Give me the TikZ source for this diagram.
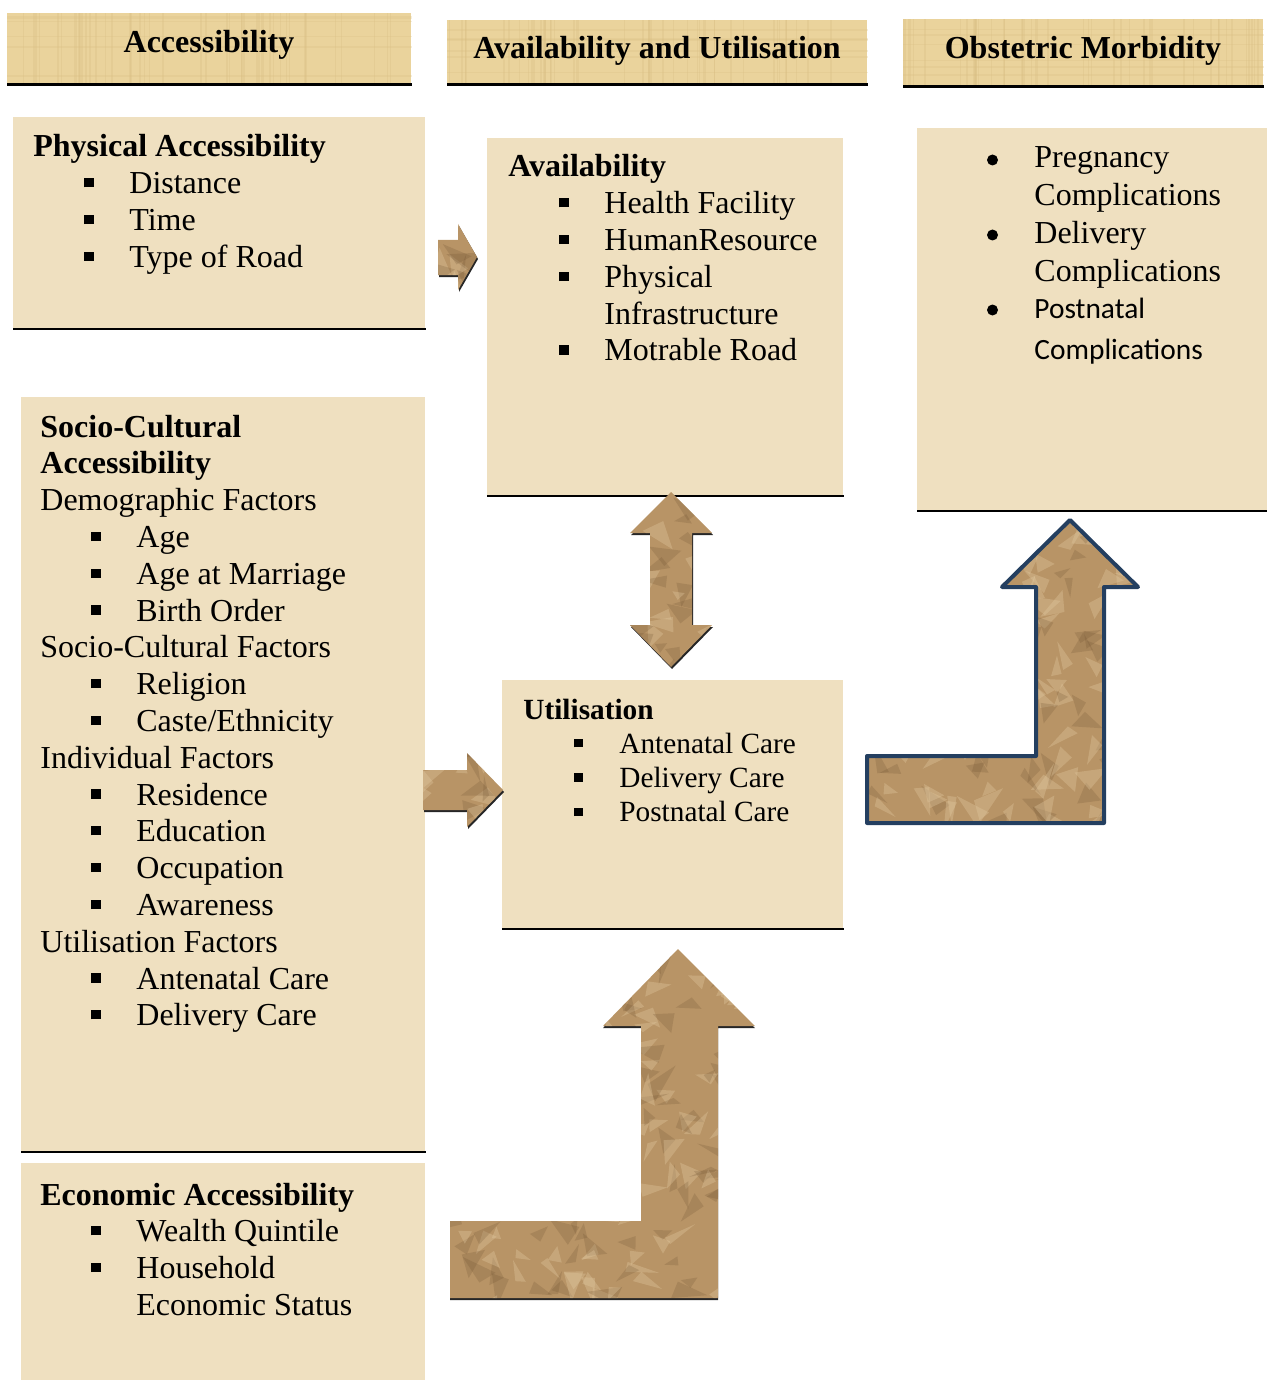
\documentclass[tikz,border=0pt]{standalone}
\usepackage{fontspec}
\setmainfont{Liberation Serif}
\newfontfamily\calib{Carlito}
\usetikzlibrary{calc}
\definecolor{hdrcol}{HTML}{EAD39C}
\definecolor{hdrdark}{HTML}{D9BE82}
\definecolor{boxcol}{HTML}{EFE0C0}
\definecolor{arrcol}{HTML}{B89466}
\definecolor{arrdark}{HTML}{6E5030}
\definecolor{arrlight}{HTML}{E2C9A0}
\definecolor{navy}{HTML}{243F60}
\newcommand{\sqb}{\rule[0.2em]{0.29em}{0.29em}}
\newcommand{\bitem}[1]{\par\hspace*{25.5pt}\makebox[22.5pt][l]{\sqb}#1}
\newcommand{\cont}[1]{\par\hspace*{48pt}#1}
\newcommand{\plainline}[1]{\par #1}
% #1 width, #2 font size, #3 baselineskip, #4 content
\newcommand{\boxtext}[4]{\vtop{\hsize=#1\parindent=0pt\raggedright\fontsize{#2}{#3}\selectfont #4\par}}
\tikzset{
  hdr/.style={fill=hdrcol, inner sep=0pt, anchor=north west},
  pbox/.style={fill=boxcol, inner sep=0pt, anchor=north west},
  txt/.style={anchor=base west, inner sep=0pt},
  htxt/.style={anchor=base, inner sep=0pt, font=\fontsize{16}{18}\selectfont\bfseries},
  baserule/.style={line width=1.5pt, black},
  thinrule/.style={line width=1.2pt, black},
  blockarrow/.style={fill=arrcol},
  arrshadow/.style={fill=black!85},
  darkfacet/.style={fill=arrdark, opacity=0.22},
  lightfacet/.style={fill=arrlight, opacity=0.35},
}
% random triangular facets inside a clip; needs (cA) top-left, \ww width, \hh height
\newcommand{\crumple}[1]{%
  \foreach \k in {1,...,#1}{%
    \pgfmathsetmacro{\xa}{\ww*rnd}\pgfmathsetmacro{\ya}{\hh*rnd}%
    \pgfmathsetmacro{\aa}{360*rnd}\pgfmathsetmacro{\ab}{\aa+40+60*rnd}%
    \pgfmathsetmacro{\ra}{12+22*rnd}\pgfmathsetmacro{\rb}{8+16*rnd}%
    \pgfmathparse{rnd<0.5?1:0}%
    \ifnum\pgfmathresult=1
      \fill[darkfacet] ($(cA)+(\xa,\ya)$) -- ++(\aa:\ra) -- ($(cA)+(\xa,\ya)+(\ab:\rb)$) -- cycle;
    \else
      \fill[lightfacet] ($(cA)+(\xa,\ya)$) -- ++(\aa:\ra) -- ($(cA)+(\xa,\ya)+(\ab:\rb)$) -- cycle;
    \fi
  }}
\begin{document}
\begin{tikzpicture}[x=0.5pt, y=-0.5pt]
\useasboundingbox (0,0) rectangle (1267,1380);
\pgfmathsetseed{11}

% ---------- headers ----------
\node[hdr, minimum width=202pt, minimum height=35.5pt] (hA) at (7,13) {};
\node[hdr, minimum width=210pt, minimum height=32pt] (hB) at (447,20) {};
\node[hdr, minimum width=180pt, minimum height=33.5pt] (hC) at (903,19) {};
\foreach \h in {hA,hB,hC}{
  \begin{scope}
    \clip (\h.north west) rectangle (\h.south east);
    \foreach \k in {1,...,45}{
      \pgfmathsetmacro{\xa}{rnd}
      \path[draw=hdrdark, line width=0.8pt, opacity=0.3]
        ($(\h.north west)!\xa!(\h.north east)$) -- ($(\h.south west)!\xa!(\h.south east)$);
    }
    \foreach \k in {1,...,6}{
      \pgfmathsetmacro{\ya}{rnd}
      \path[draw=hdrdark, line width=0.8pt, opacity=0.25]
        ($(\h.north west)!\ya!(\h.south west)$) -- ($(\h.north east)!\ya!(\h.south east)$);
    }
  \end{scope}
}
\draw[baserule] (hA.south west) -- (hA.south east);
\draw[baserule] (hB.south west) -- (hB.south east);
\draw[baserule] (hC.south west) -- (hC.south east);
\node[htxt] (tA) at (209,53) {Accessibility};
\node[htxt] (tB) at (657,59) {Availability and Utilisation};
\node[htxt] (tC) at (1083,59) {Obstetric Morbidity};

% ---------- content boxes ----------
\node[pbox, minimum width=206pt, minimum height=105.5pt] (phys) at (13,117) {};
\node[pbox, minimum width=178pt, minimum height=178.5pt] (avail) at (487,138) {};
\node[pbox, minimum width=175pt, minimum height=191pt] (obst) at (917,128) {};
\node[pbox, minimum width=202pt, minimum height=377pt] (socio) at (21,397) {};
\node[pbox, minimum width=202pt, minimum height=108.5pt] (econ) at (21,1163) {};
\node[pbox, minimum width=170.5pt, minimum height=124pt] (util) at (502,680) {};
\draw[thinrule] (phys.south west) -- (phys.south east);
\draw[thinrule] (avail.south west) -- (avail.south east);
\draw[thinrule] (obst.south west) -- (obst.south east);
\draw[thinrule] (socio.south west) -- (socio.south east);
\draw[thinrule] (util.south west) -- (util.south east);

% ---------- texts ----------
\node[txt] (physT) at (33,157) {\boxtext{190pt}{16}{18.4pt}{%
  \textbf{Physical Accessibility}\bitem{Distance}\bitem{Time}\bitem{Type of Road}}};
\node[txt] (availT) at (508,177) {\boxtext{165pt}{16}{18.4pt}{%
  \textbf{Availability}\bitem{Health Facility}\bitem{HumanResource}\bitem{Physical}\cont{Infrastructure}\bitem{Motrable Road}}};
\node[txt] (utilT) at (523,719) {\boxtext{155pt}{14.65}{17.15pt}{%
  \textbf{Utilisation}\bitem{Antenatal Care}\bitem{Delivery Care}\bitem{Postnatal Care}}};
\node[txt] (socioT) at (40,437) {\boxtext{190pt}{16}{18.4pt}{%
  \textbf{Socio-Cultural}\plainline{\textbf{Accessibility}}%
  \plainline{Demographic Factors}\bitem{Age}\bitem{Age at Marriage}\bitem{Birth Order}%
  \plainline{Socio-Cultural Factors}\bitem{Religion}\bitem{Caste/Ethnicity}%
  \plainline{Individual Factors}\bitem{Residence}\bitem{Education}\bitem{Occupation}\bitem{Awareness}%
  \plainline{Utilisation Factors}\bitem{Antenatal Care}\bitem{Delivery Care}}};
\node[txt] (econT) at (40,1205) {\boxtext{190pt}{16}{18.4pt}{%
  \textbf{Economic Accessibility}\bitem{Wealth Quintile}\bitem{Household}\cont{Economic Status}}};
\fill (992.5,160) circle [radius=5.5];
\fill (992.5,235) circle [radius=5.5];
\fill (992.5,310) circle [radius=5.5];
\node[txt] (obst1) at (1034,168) {\boxtext{110pt}{16}{18.6pt}{Pregnancy\par Complications}};
\node[txt] (obst2) at (1034,243) {\boxtext{110pt}{16}{19.3pt}{Delivery\par Complications}};
\node[txt] (obst3) at (1034,318) {\boxtext{110pt}{14.7}{20.5pt}{\calib Postnatal\par Complications}};

% ---------- block arrows ----------
% physical -> availability
\fill[arrshadow] (439,242) -- (459,242) -- (459,226) -- (478,259) -- (459,292) -- (459,277) -- (439,277) -- cycle;
\fill[blockarrow] (438,240) -- (458,240) -- (458,224) -- (477,257) -- (458,290) -- (458,275) -- (438,275) -- cycle;
\begin{scope}
  \clip (438,240) -- (458,240) -- (458,224) -- (477,257) -- (458,290) -- (458,275) -- (438,275) -- cycle;
  \coordinate (cA) at (430,218); \def\ww{55}\def\hh{78}
  \crumple{14}
\end{scope}
% socio -> utilisation
\fill[arrshadow] (424,772) -- (468,772) -- (468,755) -- (504,792) -- (468,829) -- (468,812) -- (424,812) -- cycle;
\fill[blockarrow] (423,770) -- (467,770) -- (467,753) -- (503,790) -- (467,827) -- (467,810) -- (423,810) -- cycle;
\begin{scope}
  \clip (423,770) -- (467,770) -- (467,753) -- (503,790) -- (467,827) -- (467,810) -- (423,810) -- cycle;
  \coordinate (cA) at (415,748); \def\ww{95}\def\hh{85}
  \crumple{22}
\end{scope}
% availability <-> utilisation
\fill[arrshadow] (672,494) -- (713,535) -- (693,535) -- (693,627) -- (713,627) -- (672,669) -- (631,627) -- (651,627) -- (651,535) -- (631,535) -- cycle;
\fill[blockarrow] (671,492) -- (712,533) -- (692,533) -- (692,625) -- (712,625) -- (671,667) -- (630,625) -- (650,625) -- (650,533) -- (630,533) -- cycle;
\begin{scope}
  \clip (671,492) -- (712,533) -- (692,533) -- (692,625) -- (712,625) -- (671,667) -- (630,625) -- (650,625) -- (650,533) -- (630,533) -- cycle;
  \coordinate (cA) at (622,485); \def\ww{98}\def\hh{190}
  \crumple{45}
\end{scope}
% economic -> utilisation (bent)
\fill[arrshadow] (450,1223) -- (641,1223) -- (641,1028) -- (603,1028) -- (678,951) -- (755,1028) -- (718,1028) -- (718,1300) -- (450,1300) -- cycle;
\fill[blockarrow] (450,1221) -- (641,1221) -- (641,1026) -- (603,1026) -- (678,949) -- (755,1026) -- (718,1026) -- (718,1298) -- (450,1298) -- cycle;
\begin{scope}
  \clip (450,1221) -- (641,1221) -- (641,1026) -- (603,1026) -- (678,949) -- (755,1026) -- (718,1026) -- (718,1298) -- (450,1298) -- cycle;
  \coordinate (cA) at (440,940); \def\ww{330}\def\hh{370}
  \crumple{260}
\end{scope}
% utilisation -> obstetric morbidity (bent, outlined)
\fill[blockarrow] (867,756) -- (1036,756) -- (1036,587) -- (1002,587) -- (1070,520) -- (1138,587) -- (1104,587) -- (1104,823) -- (867,823) -- cycle;
\begin{scope}
  \clip (867,756) -- (1036,756) -- (1036,587) -- (1002,587) -- (1070,520) -- (1138,587) -- (1104,587) -- (1104,823) -- (867,823) -- cycle;
  \coordinate (cA) at (857,510); \def\ww{295}\def\hh{325}
  \crumple{220}
\end{scope}
\draw[navy, line width=2pt, line join=round] (867,756) -- (1036,756) -- (1036,587) -- (1002,587) -- (1070,520) -- (1138,587) -- (1104,587) -- (1104,823) -- (867,823) -- cycle;
\end{tikzpicture}
\end{document}
